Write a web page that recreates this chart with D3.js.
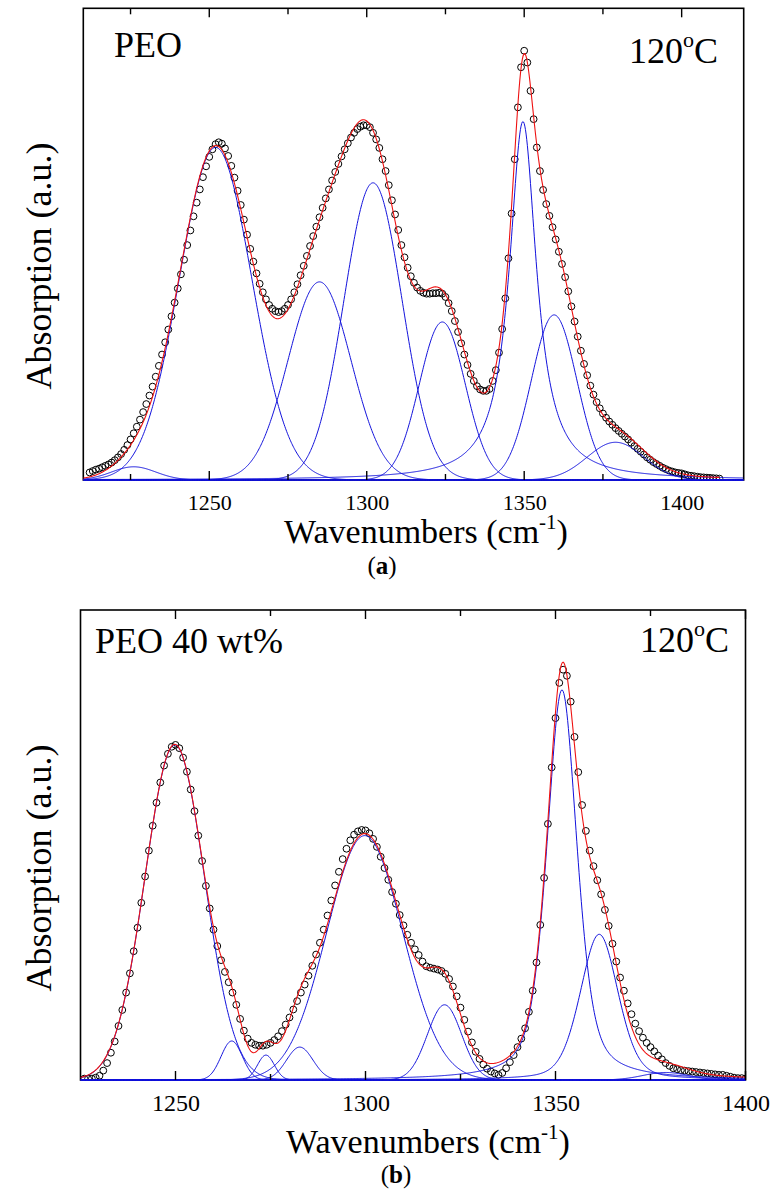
<!DOCTYPE html>
<html><head><meta charset="utf-8">
<script src="https://cdn.jsdelivr.net/npm/d3@7"></script>
<style>
body{margin:0;background:#fff}
svg text{font-family:"Liberation Serif","Times New Roman","DejaVu Serif",serif;}
</style>
</head><body>
<svg id="c" width="780" height="1201"></svg>
<script>
// ---------- Panel (a): PEO, 120 °C ----------
const aStart = 1212;            // first measured wavenumber (step 1 cm-1)
const aAbs = [
1.6,1.9,2.2,2.4,2.7,3.0,3.3,3.7,4.2,4.8,
5.5,6.4,7.4,8.6,9.9,11.3,12.8,14.4,16.1,17.9,
19.8,21.9,24.2,26.6,29.2,31.9,34.7,37.6,40.6,43.6,
46.7,49.8,52.9,55.9,58.8,61.6,64.2,66.5,68.5,70.1,
71.2,71.6,71.3,70.3,68.7,66.6,64.1,61.3,58.3,55.2,
52.0,49.0,46.3,43.8,41.6,39.8,38.3,37.1,36.3,35.8,
35.6,35.8,36.3,37.1,38.3,39.8,41.5,43.4,45.4,47.5,
49.6,51.7,53.7,55.7,57.7,59.7,61.6,63.5,65.3,67.0,
68.6,70.1,71.4,72.6,73.6,74.4,74.9,75.2,75.2,74.8,
73.6,72.2,70.4,68.0,65.5,62.5,59.3,56.3,53.0,49.8,
47.2,45.0,43.2,41.8,40.8,40.1,39.7,39.5,39.5,39.6,
39.6,39.7,39.5,38.8,37.5,35.8,33.7,31.4,29.0,26.6,
24.4,22.5,21.0,19.9,19.2,18.9,18.9,19.3,21.0,23.3,
27.0,32.0,38.5,47.0,56.5,68.0,79.0,87.5,91.0,88.5,
82.5,76.5,70.5,65.5,61.5,58.5,56.0,53.6,51.0,48.4,
45.8,43.0,40.0,36.8,33.6,30.4,27.4,24.6,22.2,20.0,
18.1,16.5,15.2,14.1,13.2,12.4,11.7,11.0,10.4,9.8,
9.2,8.6,7.9,7.2,6.6,6.0,5.4,4.8,4.3,3.8,
3.4,3.0,2.6,2.3,2.0,1.8,1.6,1.5,1.4,1.2,
1.0,0.9,0.8,0.7,0.6,0.55,0.5,0.45,0.4,0.35,0.3];
// fitted band components (centre, height, FWHM, Lorentz fraction)
const aCenter = [1226, 1252, 1285, 1302, 1324, 1349.6, 1359.5, 1379];
const aHeight = [2.8, 70.5, 42, 63, 33.5, 76, 35, 8];
const aFwhm   = [16.5, 27.1, 23.5, 21.7, 17.2, 10.5, 17.0, 21.2];
const aEta    = [0, 0, 0, 0, 0, 1, 0, 0];
const aTicks = [1250, 1300, 1350, 1400];
const aMinor = [1225, 1250, 1275, 1300, 1325, 1350, 1375, 1400];

// ---------- Panel (b): PEO 40 wt%, 120 °C ----------
const bStart = 1226;
const bAbs = [
0.3,0.3,0.3,0.5,0.9,2.0,3.6,5.8,8.2,11.5,
14.9,18.6,22.7,27.4,32.4,37.7,43.3,48.8,54.1,59.0,
63.3,66.9,69.4,70.9,71.3,70.6,68.6,65.6,61.8,57.2,
52.0,46.6,41.3,36.5,32.0,28.5,25.5,23.0,20.8,18.6,
16.0,13.0,10.5,8.8,7.9,7.5,7.3,7.3,7.5,7.9,
8.5,9.3,10.4,11.8,13.3,15.0,16.8,18.6,20.3,22.2,
24.3,26.7,29.2,32.0,35.0,38.2,41.4,44.3,47.0,49.2,
51.0,52.2,52.9,53.2,53.1,52.5,51.3,49.6,47.5,45.1,
42.6,40.0,37.5,35.1,32.9,30.9,29.2,27.8,26.6,25.2,
24.2,23.9,23.7,23.5,23.2,22.6,21.5,19.9,17.8,15.4,
12.8,10.3,8.0,6.0,4.5,3.3,2.4,1.8,1.4,1.1,
1.5,2.5,3.8,5.3,7.0,8.8,11.0,14.5,19.0,25.0,
33.0,43.0,54.5,66.5,77.0,84.5,87.3,86.0,80.5,73.0,
65.5,58.5,53.0,48.8,45.5,42.5,39.5,36.2,32.8,29.0,
25.2,21.8,19.0,16.3,14.0,12.0,10.4,9.0,7.9,7.0,
6.1,5.2,4.4,3.6,3.0,2.5,2.3,2.1,2.0,1.9,
1.8,1.7,1.6,1.5,1.4,1.3,1.2,1.1,1.1,0.9,
0.7,0.5,0.4,0.4,0.3];
const bCenter = [1249.8, 1264.8, 1273.8, 1282.7, 1299.8, 1320.8, 1351.7, 1361.5, 1379];
const bHeight = [71.3, 8.3, 5.3, 7, 52, 16, 83, 31, 1.6];
const bFwhm   = [18.4, 6.6, 5.2, 8.2, 23.5, 10.6, 9.5, 11.8, 14];
const bEta    = [0, 0, 0, 0, 0, 0, 0.5, 0.3, 0];
const bTicks = [1250, 1300, 1350, 1400];
const bMinor = [1250, 1275, 1300, 1325, 1350, 1375, 1400];

const FONT = "'Liberation Serif','Times New Roman','DejaVu Serif',serif";
const svg = d3.select("#c");

function band(x, c, h, w, eta) {
  const d = x - c, s = w / 2.3548, g = w / 2;
  return h * ((1 - eta) * Math.exp(-d * d / (2 * s * s)) + eta / (1 + (d / g) * (d / g)));
}

function panel(o) {
  const x = d3.scaleLinear().domain(o.xdom).range([o.left, o.right]);
  const y = d3.scaleLinear().domain([0, 100]).range([o.bottom, o.top]);
  const g = svg.append("g");

  g.append("rect").attr("x", o.left).attr("y", o.top).attr("width", o.right - o.left)
    .attr("height", o.bottom - o.top).attr("fill", "none").attr("stroke", "#000").attr("stroke-width", 1.6);

  const clipId = "clip" + o.id;
  g.append("clipPath").attr("id", clipId).append("rect")
    .attr("x", o.left).attr("y", o.top).attr("width", o.right - o.left).attr("height", o.bottom - o.top + 1);
  const plot = g.append("g").attr("clip-path", `url(#${clipId})`);

  const data = o.abs.map((v, i) => ({ w: o.start + i, v }));
  const xs = d3.range(o.xdom[0], o.xdom[1] + 0.001, 0.2);
  const line = d3.line().x(p => x(p[0])).y(p => y(p[1]));

  plot.selectAll("circle.pt").data(data).enter().append("circle")
    .attr("cx", p => x(p.w)).attr("cy", p => y(p.v)).attr("r", 3.4)
    .attr("fill", "none").attr("stroke", "#000").attr("stroke-width", 1);

  o.center.forEach((c, k) => {
    const pts = xs.map(t => [t, band(t, c, o.height[k], o.fwhm[k], o.eta[k])]);
    plot.append("path").attr("d", line(pts)).attr("fill", "none")
      .attr("stroke", "#1212dc").attr("stroke-width", 1);
  });
  const fx = xs.filter(t => t >= o.fit[0] && t <= o.fit[1]);
  const sum = fx.map(t => [t, d3.sum(o.center, (c, k) => band(t, c, o.height[k], o.fwhm[k], o.eta[k]))]);
  plot.append("path").attr("d", line(sum)).attr("fill", "none")
    .attr("stroke", "#ee1111").attr("stroke-width", 1.1);

  o.minor.forEach(t => {
    const len = o.ticks.includes(t) ? 9 : 6;
    g.append("line").attr("x1", x(t)).attr("x2", x(t)).attr("y1", o.bottom).attr("y2", o.bottom - len)
      .attr("stroke", "#000").attr("stroke-width", 1.4);
    g.append("line").attr("x1", x(t)).attr("x2", x(t)).attr("y1", o.top).attr("y2", o.top + len)
      .attr("stroke", "#000").attr("stroke-width", 1.4);
  });
  const bottomAxis = d3.axisBottom(x).tickValues(o.ticks).tickSize(0).tickPadding(0).tickFormat(d3.format("d"));
  const ax = g.append("g").attr("transform", `translate(0,${o.bottom})`).call(bottomAxis);
  ax.select(".domain").remove();
  ax.attr("font-family", null).attr("font-size", null);
  ax.selectAll("text").attr("font-family", FONT).attr("font-size", o.tickFs).attr("fill", "#000")
    .attr("dy", 0).attr("y", o.tickDy);

  const t1 = g.append("text").attr("x", o.xtX).attr("y", o.xtY).attr("text-anchor", "middle")
    .attr("font-family", FONT).attr("font-size", 34);
  t1.append("tspan").text("Wavenumbers (cm");
  t1.append("tspan").attr("font-size", 21).attr("dy", -14).text("-1");
  t1.append("tspan").attr("dy", 14).text(")");

  g.append("text").attr("transform", `translate(${o.ytX},${o.ytY}) rotate(-90)`).attr("text-anchor", "middle")
    .attr("font-family", FONT).attr("font-size", 36).text("Absorption (a.u.)");

  const sub = g.append("text").attr("x", o.subX).attr("y", o.subY).attr("text-anchor", "middle")
    .attr("font-family", FONT).attr("font-size", 25);
  sub.append("tspan").text("(");
  sub.append("tspan").attr("font-weight", "bold").text(o.sub);
  sub.append("tspan").text(")");

  g.append("text").attr("x", o.nameX).attr("y", o.nameY).attr("font-family", FONT)
    .attr("font-size", 36).text(o.name);
  const tt = g.append("text").attr("x", o.tempX).attr("y", o.tempY).attr("text-anchor", "end")
    .attr("font-family", FONT).attr("font-size", 36);
  tt.append("tspan").text("120");
  tt.append("tspan").attr("font-size", 22).attr("dy", -16).text("o");
  tt.append("tspan").attr("dy", 16).text("C");
}

panel({ id: "a", xdom: [1210, 1419.7], left: 83.3, right: 743.7, top: 8.3, bottom: 480,
  abs: aAbs, start: aStart, center: aCenter, height: aHeight, fwhm: aFwhm, eta: aEta,
  fit: [1210, 1412], ticks: aTicks, minor: aMinor, tickFs: 22, tickDy: 30,
  xtX: 426, xtY: 543, ytX: 51, ytY: 266, sub: "a", subX: 382, subY: 574,
  name: "PEO", nameX: 114, nameY: 57, tempX: 718, tempY: 63 });

panel({ id: "b", xdom: [1225, 1400], left: 80.5, right: 745.5, top: 610, bottom: 1080,
  abs: bAbs, start: bStart, center: bCenter, height: bHeight, fwhm: bFwhm, eta: bEta,
  fit: [1225, 1400], ticks: bTicks, minor: bMinor, tickFs: 24, tickDy: 31,
  xtX: 428, xtY: 1153, ytX: 51, ytY: 868, sub: "b", subX: 396, subY: 1183,
  name: "PEO 40 wt%", nameX: 95, nameY: 653, tempX: 729, tempY: 652 });
</script>
</body></html>
